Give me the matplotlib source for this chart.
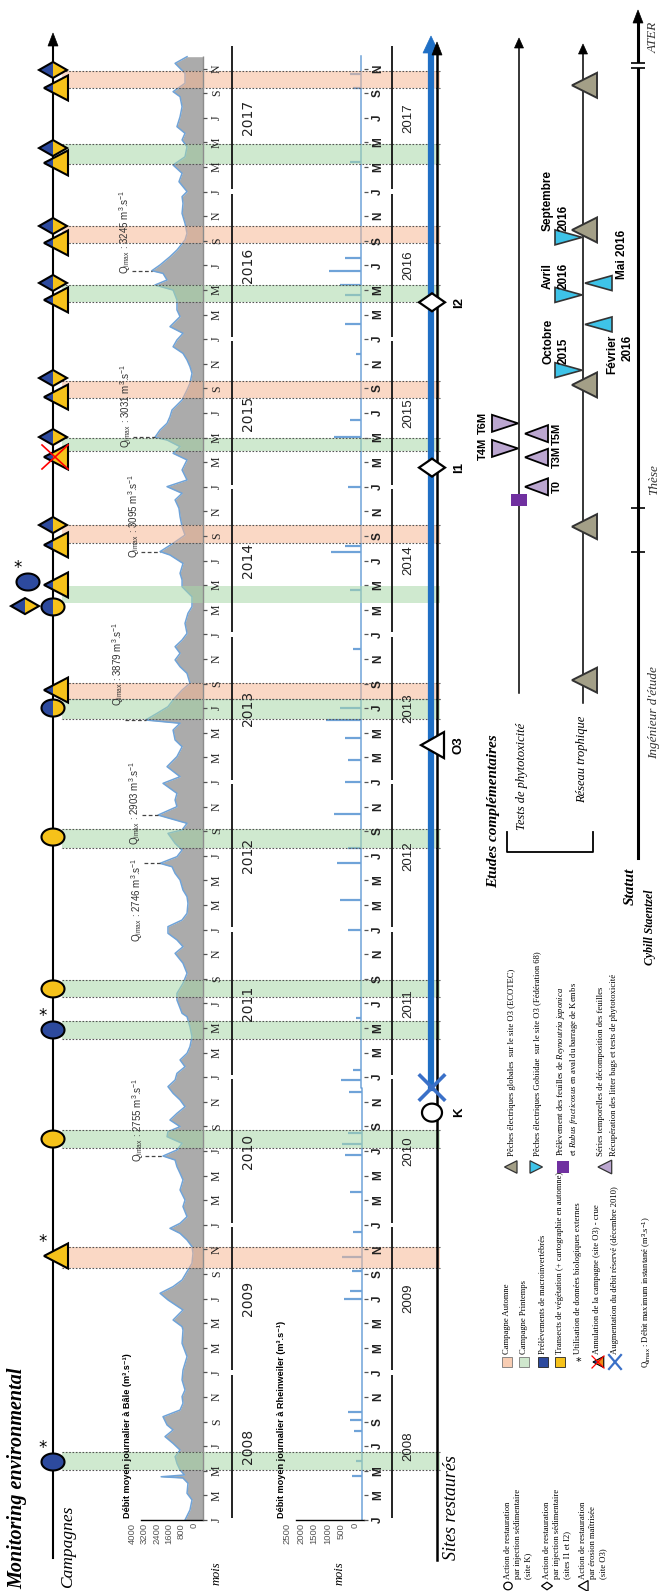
import numpy as np
import matplotlib
matplotlib.use("Agg")
import matplotlib.pyplot as plt
from matplotlib.patches import Polygon, Rectangle
from matplotlib import font_manager
import matplotlib.transforms as mtransforms

# ======================= DATA =======================
years = [2008, 2009, 2010, 2011, 2012, 2013, 2014, 2015, 2016, 2017]
month_nums = [1, 3, 5, 7, 9, 11]
month_letters = ["J", "M", "M", "J", "S", "N"]

spring_start = [2008.34, 2010.52, 2011.26, 2011.54, 2012.55, 2013.43, 2014.21, 2015.24, 2016.25, 2017.19]
spring_end = [2008.46, 2010.64, 2011.38, 2011.66, 2012.68, 2013.56, 2014.33, 2015.33, 2016.37, 2017.32]
spring_dotted = [True, True, True, True, True, True, False, True, True, True]
autumn_start = [2009.71, 2013.56, 2014.62, 2015.60, 2016.65, 2017.70]
autumn_end = [2009.85, 2013.67, 2014.74, 2015.72, 2016.77, 2017.82]

# Daily mean discharge at Basel (m3/s)
basel_t = [2008.000, 2008.068, 2008.136, 2008.181, 2008.249, 2008.285, 2008.293, 2008.305, 2008.339, 2008.384,
           2008.429, 2008.474, 2008.519, 2008.565, 2008.610, 2008.644, 2008.700, 2008.745, 2008.791, 2008.836,
           2008.881, 2008.949, 2009.016, 2009.107, 2009.197, 2009.287, 2009.310, 2009.355, 2009.423, 2009.491,
           2009.536, 2009.581, 2009.626, 2009.682, 2009.739, 2009.807, 2009.852, 2009.897, 2009.942, 2009.976,
           2010.010, 2010.055, 2010.123, 2010.168, 2010.236, 2010.304, 2010.349, 2010.394, 2010.439, 2010.466,
           2010.507, 2010.552, 2010.597, 2010.631, 2010.665, 2010.710, 2010.755, 2010.800, 2010.846, 2010.891,
           2010.936, 2010.981, 2011.026, 2011.071, 2011.117, 2011.162, 2011.207, 2011.274, 2011.342, 2011.410,
           2011.433, 2011.523, 2011.568, 2011.636, 2011.704, 2011.772, 2011.839, 2011.884, 2011.930, 2011.975,
           2012.020, 2012.065, 2012.110, 2012.178, 2012.223, 2012.268, 2012.336, 2012.381, 2012.426, 2012.449,
           2012.494, 2012.539, 2012.584, 2012.652, 2012.675, 2012.720, 2012.776, 2012.833, 2012.878, 2012.923,
           2012.991, 2013.036, 2013.104, 2013.172, 2013.239, 2013.285, 2013.352, 2013.398, 2013.420, 2013.465,
           2013.510, 2013.556, 2013.623, 2013.669, 2013.736, 2013.781, 2013.827, 2013.872, 2013.917, 2013.962,
           2014.007, 2014.075, 2014.143, 2014.188, 2014.255, 2014.323, 2014.369, 2014.414, 2014.481, 2014.538,
           2014.561, 2014.617, 2014.673, 2014.730, 2014.798, 2014.854, 2014.911, 2014.956, 2015.001, 2015.046,
           2015.114, 2015.182, 2015.227, 2015.272, 2015.317, 2015.335, 2015.385, 2015.430, 2015.475, 2015.520,
           2015.588, 2015.656, 2015.701, 2015.769, 2015.814, 2015.859, 2015.904, 2015.949, 2015.995, 2016.040,
           2016.085, 2016.153, 2016.198, 2016.266, 2016.333, 2016.367, 2016.401, 2016.446, 2016.464, 2016.503,
           2016.559, 2016.604, 2016.672, 2016.717, 2016.785, 2016.852, 2016.920, 2016.966, 2017.000, 2017.067,
           2017.124, 2017.180, 2017.236, 2017.304, 2017.350, 2017.395, 2017.440, 2017.507, 2017.575, 2017.643,
           2017.677, 2017.734, 2017.801, 2017.869, 2017.914]
basel_q = [1160, 840, 710, 1030, 970, 1300, 2700, 1200, 1480, 1680,
           1800, 1480, 1930, 2450, 1930, 2320, 2580, 1480, 1290, 1350,
           1160, 1350, 1290, 1030, 1350, 1290, 1350, 1930, 1290, 2260,
           2770, 1930, 1350, 1030, 710, 645, 710, 1030, 1480, 2130,
           1480, 1030, 1290, 1160, 1480, 1290, 1480, 1680, 1800, 2580,
           1680, 1350, 2320, 2260, 1480, 2130, 1680, 1160, 1480, 1930,
           2260, 1800, 1680, 1160, 1480, 1030, 840, 710, 840, 1030,
           1350, 1680, 1680, 1290, 1030, 1290, 1800, 1290, 1680, 2260,
           2260, 1350, 1030, 970, 1030, 1290, 1480, 1800, 2000, 2770,
           1680, 1350, 1800, 2260, 1350, 1030, 2900, 1680, 1800, 1680,
           2580, 1480, 2320, 1680, 1350, 1800, 1930, 1480, 3700, 2970,
           2260, 1930, 1350, 840, 1030, 1480, 1800, 1480, 1800, 1350,
           1030, 1160, 970, 710, 710, 1350, 1350, 1480, 1290, 2130,
           2770, 1930, 1160, 1350, 1480, 1550, 1800, 1350, 2320, 1030,
           1350, 1030, 1930, 1480, 2320, 3100, 2770, 2320, 2130, 2000,
           1350, 1030, 840, 710, 840, 1030, 1290, 1930, 1680, 1290,
           2130, 1480, 1680, 1680, 1930, 3100, 2320, 2580, 3300, 2770,
           2130, 1680, 1160, 1030, 1160, 1350, 1290, 1350, 1030, 1550,
           1350, 1930, 1160, 1030, 1350, 1160, 1680, 1480, 1350, 1480,
           1930, 1160, 1160, 1800, 1030]

# Rheinweiler (Old Rhine) discharge: base flow + flood spikes (m3/s)
rw_base_t = [2008.0, 2010.93, 2010.93, 2017.92]
rw_base_q = [60, 60, 120, 120]
rw_spike_t = [2008.30, 2008.40, 2008.60, 2008.68, 2008.73, 2009.50, 2009.55, 2009.69, 2009.78, 2009.95,
              2010.22, 2010.47, 2010.55, 2010.62, 2010.90, 2010.98, 2011.05, 2011.40, 2012.00, 2012.20,
              2012.45, 2012.55, 2012.78, 2013.00, 2013.15, 2013.30, 2013.42, 2013.50, 2013.90, 2014.30,
              2014.56, 2014.60, 2015.00, 2015.34, 2015.45, 2015.90, 2016.10, 2016.30, 2016.37, 2016.46,
              2016.55, 2017.20, 2017.70, 2017.80]
rw_spike_q = [450, 300, 350, 500, 600, 750, 500, 450, 800, 400,
              500, 700, 800, 600, 550, 850, 400, 300, 600, 900,
              1000, 600, 1100, 700, 600, 700, 1400, 900, 400, 500,
              1200, 700, 600, 1100, 500, 300, 700, 700, 900, 1300,
              700, 500, 400, 500]

# Instantaneous maxima annotations
qmax_t = [2010.466, 2012.449, 2012.776, 2013.420, 2014.561, 2015.335, 2016.464]
qmax_v = [2755, 2746, 2903, 3879, 3095, 3031, 3245]

# Campaign markers on the "Campagnes" line
camp_t = [2008.393, 2009.789, 2010.581, 2011.320, 2011.598, 2012.627, 2013.501, 2013.623,
          2014.186, 2014.335, 2014.192, 2014.355, 2014.606, 2014.741, 2015.202, 2015.337,
          2015.608, 2015.737, 2016.266, 2016.381, 2016.652, 2016.767, 2017.194, 2017.295,
          2017.702, 2017.824]
camp_shape = ["ellipse", "tri", "ellipse", "ellipse", "ellipse", "ellipse", "ellipse", "tri",
              "ellipse", "tri", "diamond", "ellipse", "tri", "diamond", "tri", "diamond",
              "tri", "diamond", "tri", "diamond", "tri", "diamond", "tri", "diamond",
              "tri", "diamond"]
camp_fill = ["blue", "yellow", "yellow", "blue", "yellow", "yellow", "split", "split",
             "split", "split", "split", "blue", "split", "split", "split", "split",
             "split", "split", "split", "split", "split", "split", "split", "split",
             "split", "split"]
camp_star = [True, True, False, True, False, False, False, False,
             False, False, False, True, False, False, False, False,
             False, False, False, False, False, False, False, False, False, False]
camp_xoff = [0, 0, 0, 0, 0, 0, 0, 0, 0, 0, -28, -25, 0, 0, 0, 0, 0, 0, 0, 0, 0, 0, 0, 0, 0, 0]
camp_cancel = [False] * 14 + [True] + [False] * 11

# Restored sites
site_names = ["K", "O3", "I1", "I2"]
site_t = [2010.76, 2013.25, 2015.13, 2016.25]
site_shape = ["ellipse", "tri", "diamond", "diamond"]
flow_increase_t = 2010.93

# Complementary studies
litter_start_t = 2014.91
litter_t = [2015.00, 2015.20, 2015.26, 2015.36, 2015.43]
litter_lab = ["T0", "T3M", "T4M", "T5M", "T6M"]
litter_side = [1, 1, -1, 1, -1]
trophic_global_t = [2013.69, 2014.73, 2015.69, 2016.74, 2017.72]
gobi_t = [2015.79, 2016.10, 2016.30, 2016.38, 2016.69]
gobi_side = [-1, 1, -1, 1, -1]
gobi_lab = ["Octobre\n2015", "Février\n2016", "Avril\n2016", "Mai 2016", "Septembre\n2016"]
status_ticks_t = [2014.558, 2014.856]

# ======================= STYLE =======================
avail = {f.name for f in font_manager.fontManager.ttflist}
SERIF = "Liberation Serif" if "Liberation Serif" in avail else "DejaVu Serif"
SANS = "Liberation Sans" if "Liberation Sans" in avail else "DejaVu Sans"
NARROW = "Liberation Sans Narrow" if "Liberation Sans Narrow" in avail else SANS
plt.rcParams["mathtext.fontset"] = "custom"
plt.rcParams["mathtext.rm"] = SANS
plt.rcParams["mathtext.it"] = SERIF + ":italic"
plt.rcParams["mathtext.bf"] = SANS + ":bold"

BLUE = "#2d4a9e"
YELLOW = "#f6c21a"
CYAN = "#3ec3e8"
KHAKI = "#a39f87"
LAV = "#bba6d0"
PURPLE = "#7030a0"
LINEBLUE = "#6fa3d8"
SITEBLUE = "#1f6fc5"

W, H = 661, 1591
PPY = 147.6          # pixels per year
PY = 1.0 / PPY


def T(y):
    """pixel row -> decimal year (layout helper)"""
    return 2008 + (1520 - y) / PPY


fig = plt.figure(figsize=(W / 100, H / 100), dpi=100)
YL = (T(H), T(0))
label_shift = mtransforms.ScaledTranslation(-9 / 100, 0, fig.dpi_scale_trans)


# ---------- hydrograph axes ----------
def hydro_axes(x0, x1, vmax, ticks):
    a = fig.add_axes([x0 / W, 0, (x1 - x0) / W, 1])
    a.set_xlim(vmax, 0)
    a.set_ylim(*YL)
    a.patch.set_alpha(0)
    for s in ["top", "left", "right"]:
        a.spines[s].set_visible(False)
    a.spines["bottom"].set_position(("data", 2008.0))
    a.spines["bottom"].set_linewidth(1.0)
    a.set_yticks([])
    a.set_xticks(ticks)
    a.set_xticklabels([str(v) for v in ticks], rotation=90, fontsize=6.8,
                      color="#555555", family=SANS)
    a.tick_params(axis="x", length=0, pad=2)
    for lab in a.get_xticklabels():
        lab.set_transform(lab.get_transform() + label_shift)
    return a


h1 = hydro_axes(141, 203, 4000, [4000, 3200, 2400, 1600, 800, 0])
h1.fill_betweenx(basel_t, 0, basel_q, color="#ababab", lw=0)
h1.plot(basel_q, basel_t, color=LINEBLUE, lw=1.1)

h2 = hydro_axes(296, 364, 2500, [2500, 2000, 1500, 1000, 500, 0])
h2.plot(rw_base_q, rw_base_t, color=LINEBLUE, lw=1.1)
h2.hlines(rw_spike_t, [rw_base_q[0] if t < flow_increase_t else rw_base_q[-1] for t in rw_spike_t],
          rw_spike_q, color=LINEBLUE, lw=1.6)

# ---------- main overlay axes ----------
ax = fig.add_axes([0, 0, 1, 1])
ax.set_xlim(0, W)
ax.set_ylim(*YL)
ax.axis("off")
ax.set_zorder(5)
ax.patch.set_alpha(0)


def to_data(xc, tc, pts):
    return [(xc + dx, tc + dy * PY) for dx, dy in pts]


def clip_half(pts, left):
    out = []
    n = len(pts)
    for i in range(n):
        p, q = pts[i], pts[(i + 1) % n]
        pin = p[0] <= 0 if left else p[0] >= 0
        qin = q[0] <= 0 if left else q[0] >= 0
        if pin:
            out.append(p)
        if pin != qin:
            s = p[0] / (p[0] - q[0])
            out.append((0.0, p[1] + s * (q[1] - p[1])))
    return out


ang = np.linspace(0, 2 * np.pi, 72, endpoint=False)
SHAPES = {
    "ellipse": [(11.5 * np.cos(a), 8.5 * np.sin(a)) for a in ang],
    "tri": [(-9, 0), (15, 12.5), (15, -12.5)],
    "diamond": [(-14, 0), (0, 8), (14, 0), (0, -8)],
}


def shape(xc, tc, pts, fc="none", ec="k", lw=1.5, split=None, z=6):
    if split:
        for side, col in ((True, split[0]), (False, split[1])):
            ax.add_patch(Polygon(to_data(xc, tc, clip_half(pts, side)), closed=True,
                                 fc=col, ec="none", zorder=z))
        ax.add_patch(Polygon(to_data(xc, tc, pts), closed=True, fc="none", ec=ec, lw=lw, zorder=z + 0.1))
    else:
        ax.add_patch(Polygon(to_data(xc, tc, pts), closed=True, fc=fc, ec=ec, lw=lw, zorder=z))


def scaled(pts, s):
    return [(x * s, y * s) for x, y in pts]


def arrow_head(x, t, w=5, h=12, color="k", z=4):
    ax.add_patch(Polygon(to_data(x, t, [(0, 0), (-w, -h), (w, -h)]), closed=True,
                         fc=color, ec=color, lw=0.5, zorder=z))


# ---------- campaign bands ----------
for s, e, d in zip(spring_start, spring_end, spring_dotted):
    ax.fill_between([62, 440], s, e, color="#a9d8a9", alpha=0.55, lw=0, zorder=1)
    if d:
        ax.hlines([s, e], 62, 440, colors="#555555", linestyles=(0, (1.5, 1.5)), lw=0.8, zorder=1.5)
for s, e in zip(autumn_start, autumn_end):
    ax.fill_between([62, 440], s, e, color="#f6b896", alpha=0.55, lw=0, zorder=1)
    ax.hlines([s, e], 62, 440, colors="#555555", linestyles=(0, (1.5, 1.5)), lw=0.8, zorder=1.5)

# ---------- hydrograph decorations ----------
ax.vlines(203, 2008.0, T(56), color="#8c8c8c", lw=1.0, zorder=2)
for (tick_x, lab_x, yline_x, ylab_x, mfont, mweight, yfont, ysize) in [
        (203, 217, 232, 248, SERIF, "normal", "DejaVu Sans", 10),
        (364, 378, 392, 408, SANS, "bold", SANS, 9.5)]:
    for yr in years:
        for m, let in zip(month_nums, month_letters):
            t = yr + (m - 1) / 12
            ax.hlines(t, tick_x, tick_x + 4, color="#555555", lw=0.9, zorder=2)
            ax.text(lab_x, t, let, rotation=90, ha="center", va="center", fontsize=8.5,
                    family=mfont, weight=mweight, color="#222222", zorder=3)
        ax.vlines(yline_x, yr + 0.015, yr + 0.985, color="#111111", lw=1.3, zorder=2)
        ax.text(ylab_x, yr + 0.5, str(yr), rotation=90, ha="center", va="center",
                fontsize=ysize, family=yfont, color="#222222", zorder=3)

ax.text(128, T(1518), "Débit moyen journalier à Bâle (m³.s⁻¹)", rotation=90, ha="center",
        va="bottom", fontsize=6.6, weight="bold", family=[NARROW, "DejaVu Sans"], zorder=3)
ax.text(282, T(1518), "Débit moyen journalier à Rheinweiler (m³.s⁻¹)", rotation=90, ha="center",
        va="bottom", fontsize=6.6, weight="bold", family=[NARROW, "DejaVu Sans"], zorder=3)
ax.text(217, T(1573), "mois", rotation=90, ha="center", va="center", fontsize=9,
        family=SERIF, style="italic", zorder=3)
ax.text(340, T(1573), "mois", rotation=90, ha="center", va="center", fontsize=9,
        family=SERIF, style="italic", zorder=3)

# Qmax annotations (text x, anchor row, alignment are layout)
q_text_x = [138, 137, 135, 118, 134, 126, 125]
q_anchor = [1162, 858, 845, 706, 558, 448, 274]
q_va = ["bottom", "top", "bottom", "bottom", "bottom", "bottom", "bottom"]
bt = np.array(basel_t)
bq = np.array(basel_q)
for t, v, tx, ay, va in zip(qmax_t, qmax_v, q_text_x, q_anchor, q_va):
    ax.text(tx, T(ay), r"Q$_{\mathrm{imax}}$ : %d m$^{3}$.s$^{-1}$" % v, rotation=90,
            ha="center", va=va, fontsize=7, family=SANS, color="#333333", zorder=3)
    peak = bq[np.argmin(np.abs(bt - t))]
    x_start_val = (203 - (tx + 7)) * 4000 / 62
    h1.plot([x_start_val, peak], [t, t], ls=(0, (3, 2)), color="#444444", lw=0.9, clip_on=False)

# ---------- campaigns line ----------
CX = 53
ax.plot([CX, CX], [T(1558), T(40)], color="k", lw=1.5, zorder=3)
arrow_head(CX, T(33), w=5, h=13)
for t, shp, fill, star, xo, canc in zip(camp_t, camp_shape, camp_fill, camp_star, camp_xoff, camp_cancel):
    pts = SHAPES[shp]
    xc = CX + xo
    if fill == "split":
        shape(xc, t, pts, split=(BLUE, YELLOW))
    else:
        shape(xc, t, pts, fc=BLUE if fill == "blue" else YELLOW)
    if star:
        ax.text(xc - 10, t + 14 * PY, "*", fontsize=12, ha="center", va="center", zorder=7)
    if canc:
        ax.plot([xc - 11, xc + 15], [t - 12 * PY, t + 12 * PY], color="red", lw=1.2, zorder=7)
        ax.plot([xc - 11, xc + 15], [t + 12 * PY, t - 12 * PY], color="red", lw=1.2, zorder=7)

ax.text(17, T(1589), "Monitoring environmental", rotation=90, ha="center", va="bottom",
        fontsize=14.5, family=SERIF, style="italic", weight="bold", zorder=3)
ax.text(68, T(1588), "Campagnes", rotation=90, ha="center", va="bottom",
        fontsize=12.5, family=SERIF, style="italic", zorder=3)

# ---------- restored sites ----------
ax.plot([437, 437], [T(1560), T(50)], color="k", lw=1.8, zorder=3)
arrow_head(437, T(42), w=5, h=13)
ax.plot([431, 431], [flow_increase_t, T(52)], color=SITEBLUE, lw=4.5, zorder=3.5)
arrow_head(431, T(36), w=8, h=17, color=SITEBLUE, z=3.6)
ax.plot([420, 444], [flow_increase_t - 12 * PY, flow_increase_t + 12 * PY], color="#3a70c8", lw=2.6, zorder=6)
ax.plot([420, 444], [flow_increase_t + 12 * PY, flow_increase_t - 12 * PY], color="#3a70c8", lw=2.6, zorder=6)
site_pts = {"ellipse": [(10 * np.cos(a), 9 * np.sin(a)) for a in ang],
            "tri": [(-11, 0), (12, 13), (12, -13)],
            "diamond": [(-13, 0), (0, 9), (13, 0), (0, -9)]}
for name, t, shp in zip(site_names, site_t, site_shape):
    shape(432, t, site_pts[shp], fc="white", lw=1.6)
    ax.text(459, t, name, rotation=90, ha="center", va="center", fontsize=9.5,
            weight="bold", family=SANS, zorder=7)
ax.text(452, T(1560), "Sites restaurés", rotation=90, ha="center", va="bottom",
        fontsize=13, family=SERIF, style="italic", zorder=3)

# ---------- complementary studies ----------
ax.text(494, T(888), "Etudes complémentaires", rotation=90, ha="center", va="bottom",
        fontsize=11, family=SERIF, style="italic", weight="bold", zorder=3)
ax.plot([507, 507, 593, 593], [T(832), T(852), T(852), T(832)], color="k", lw=1.3, zorder=3)
ax.text(522, T(830), "Tests de phytotoxicité", rotation=90, ha="center", va="bottom",
        fontsize=9, family=SERIF, style="italic", zorder=3)
ax.text(582, T(803), "Réseau trophique", rotation=90, ha="center", va="bottom",
        fontsize=9, family=SERIF, style="italic", zorder=3)

TX = 519
ax.plot([TX, TX], [T(693), T(46)], color="k", lw=1.1, zorder=3)
arrow_head(TX, T(38), w=4.5, h=10)
ax.add_patch(Rectangle((TX - 8, litter_start_t - 6 * PY), 16, 12 * PY, fc=PURPLE, ec="none", zorder=6))
for t, lab, sd in zip(litter_t, litter_lab, litter_side):
    if sd > 0:
        shape(TX + 6, t, [(0, 0), (23, 8.5), (23, -8.5)], fc=LAV, lw=1.3)
        ax.text(557, t, lab, rotation=90, ha="center", va="center", fontsize=8, weight="bold",
                family=SANS, zorder=7)
    else:
        shape(TX - 1, t, [(0, 0), (-26, 8.5), (-26, -8.5)], fc=LAV, lw=1.3)
        ax.text(483, t, lab, rotation=90, ha="center", va="center", fontsize=8, weight="bold",
                family=SANS, zorder=7)

RX = 583
ax.plot([RX, RX], [T(703), T(52)], color="k", lw=1.1, zorder=3)
arrow_head(RX, T(44), w=4.5, h=10)
for t in trophic_global_t:
    shape(RX, t, [(-11, 0), (14, 12.5), (14, -12.5)], fc=KHAKI, ec="#333333", lw=1.4)
gobi_lab_x = {-1: (548, 564), 1: (612, 628)}
for t, sd, lab in zip(gobi_t, gobi_side, gobi_lab):
    if sd < 0:
        shape(RX - 1, t, [(0, 0), (-27, 7.5), (-27, -7.5)], fc=CYAN, ec="#333333", lw=1.2)
    else:
        shape(RX + 2, t, [(0, 0), (27, 7.5), (27, -7.5)], fc=CYAN, ec="#333333", lw=1.2)
    lines = lab.split("\n")
    if len(lines) == 1:
        ax.text(622, t + 4 * PY, lab, rotation=90, ha="center", va="bottom", fontsize=8.5,
                weight="bold", family=SANS, zorder=7)
    else:
        xs = gobi_lab_x[sd]
        if sd < 0:
            ax.text(xs[0], t + 6 * PY, lines[0], rotation=90, ha="center", va="bottom",
                    fontsize=8.5, weight="bold", family=SANS, zorder=7)
            ax.text(xs[1], t + 6 * PY, lines[1], rotation=90, ha="center", va="bottom",
                    fontsize=8.5, weight="bold", family=SANS, zorder=7)
        else:
            ax.text(xs[0], t - 10 * PY, lines[0], rotation=90, ha="center", va="top",
                    fontsize=8.5, weight="bold", family=SANS, zorder=7)
            ax.text(xs[1], t - 10 * PY, lines[1], rotation=90, ha="center", va="top",
                    fontsize=8.5, weight="bold", family=SANS, zorder=7)

# Status line
SX = 638
ax.plot([SX, SX], [T(858), T(22)], color="k", lw=2.2, zorder=3)
arrow_head(SX, T(10), w=5, h=13)
ax.hlines(status_ticks_t, SX - 7, SX + 7, color="k", lw=1.2, zorder=4)
ax.add_patch(Rectangle((SX - 7, T(68)), 14, 5 * PY, fc="white", ec="none", zorder=4))
ax.hlines([T(63), T(68)], SX - 7, SX + 7, color="k", lw=1.2, zorder=4.5)
ax.text(630, T(905), "Statut", rotation=90, ha="center", va="bottom", fontsize=11,
        family=SERIF, style="italic", weight="bold", zorder=3)
ax.text(650, T(965), "Cybill Staentzel", rotation=90, ha="center", va="bottom", fontsize=8.5,
        family=SERIF, style="italic", weight="bold", zorder=3)
ax.text(654, T(713), "Ingénieur d'étude", rotation=90, ha="center", va="center", fontsize=9.5,
        family=SERIF, style="italic", color="#333333", zorder=3)
ax.text(654, T(480), "Thèse", rotation=90, ha="center", va="center", fontsize=9.5,
        family=SERIF, style="italic", color="#333333", zorder=3)
ax.text(654, T(37), "ATER", rotation=90, ha="center", va="center", fontsize=9.5,
        family=SERIF, style="italic", color="#333333", zorder=3)

# ---------- legends ----------
LF = 6.2
leg1 = [(508, "ellipse", ["Action de restauration", "par injection sédimentaire", "(site K)"]),
        (547, "diamond", ["Action de restauration", "par injection sédimentaire", "(sites I1 et I2)"]),
        (583, "tri", ["Action de restauration", "par érosion maîtrisée", "(site O3)"])]
for x0, shp, lines in leg1:
    shape(x0, T(1586), scaled(site_pts[shp], 0.42), fc="white", lw=0.9)
    for i, ln in enumerate(lines):
        ax.text(x0 + 10 * i, T(1579), ln, rotation=90, ha="center", va="bottom", fontsize=LF,
                family=SERIF, zorder=7)

leg2_x = [507, 524, 543, 560, 578, 597, 615]
leg2_txt = ["Campagne Automne", "Campagne Printemps", "Prélèvements de macroinvertébrés",
            "Transects de végétation (+ cartographie en automne)",
            "Utilisation de données biologiques externes",
            "Annulation de la campagne (site O3) - crue",
            "Augmentation du débit réservé (décembre 2010)"]
box_cols = ["#f8cdb3", "#cfe7cd", BLUE, YELLOW]
for i, (x0, txt) in enumerate(zip(leg2_x, leg2_txt)):
    ty = T(1362)
    if i < 4:
        ax.add_patch(Rectangle((x0 - 5, ty - 5 * PY), 10, 10 * PY, fc=box_cols[i],
                               ec="#777777" if i < 2 else "#222222", lw=0.6, zorder=7))
    elif i == 4:
        ax.text(x0, ty, "*", fontsize=8, ha="center", va="center", zorder=7)
    elif i == 5:
        shape(x0, ty, scaled(SHAPES["tri"], 0.45), split=(BLUE, "#f08c1a"), lw=0.8)
        ax.plot([x0 - 5, x0 + 7], [ty - 6 * PY, ty + 6 * PY], color="red", lw=0.9, zorder=8)
        ax.plot([x0 - 5, x0 + 7], [ty + 6 * PY, ty - 6 * PY], color="red", lw=0.9, zorder=8)
    else:
        ax.plot([x0 - 6, x0 + 6], [ty - 7 * PY, ty + 7 * PY], color="#3a70c8", lw=1.6, zorder=7)
        ax.plot([x0 - 6, x0 + 6], [ty + 7 * PY, ty - 7 * PY], color="#3a70c8", lw=1.6, zorder=7)
    ax.text(x0, T(1354), txt, rotation=90, ha="center", va="bottom", fontsize=LF,
            family=SERIF, zorder=7)
ax.text(647, T(1368), r"Q$_{\mathrm{imax}}$ : Débit maximum instantané (m$^{3}$.s$^{-1}$)",
        rotation=90, ha="center", va="bottom", fontsize=LF, family=SERIF, zorder=7)

ty = T(1167)
shape(510, ty, scaled([(-11, 0), (14, 12.5), (14, -12.5)], 0.5), fc=KHAKI, ec="#333333", lw=0.9)
shape(537, ty, scaled([(11, 0), (-14, 12.5), (-14, -12.5)], 0.5), fc=CYAN, ec="#333333", lw=0.9)
ax.add_patch(Rectangle((557, ty - 6 * PY), 12, 12 * PY, fc=PURPLE, ec="none", zorder=7))
shape(604, ty, scaled([(-11, 0), (14, 12.5), (14, -12.5)], 0.55), fc=LAV, ec="#333333", lw=0.9)
leg3 = [(512, "Pêches électriques globales  sur le site O3 (ECOTEC)"),
        (538, "Pêches électriques Gobiidae  sur le site O3 (Fédération 68)"),
        (561, r"Prélèvement des feuilles de $\mathit{Reynoutria\ japonica}$"),
        (574, r"et $\mathit{Rubus\ fructicosus}$ en aval du barrage de Kembs"),
        (601, "Séries temporelles de décomposition des feuilles"),
        (614, "Récupération des litter bags et tests de phytotoxicité")]
for x0, txt in leg3:
    ax.text(x0, T(1156), txt, rotation=90, ha="center", va="bottom", fontsize=LF,
            family=SERIF, zorder=7)

fig.savefig("out.png", dpi=100)
